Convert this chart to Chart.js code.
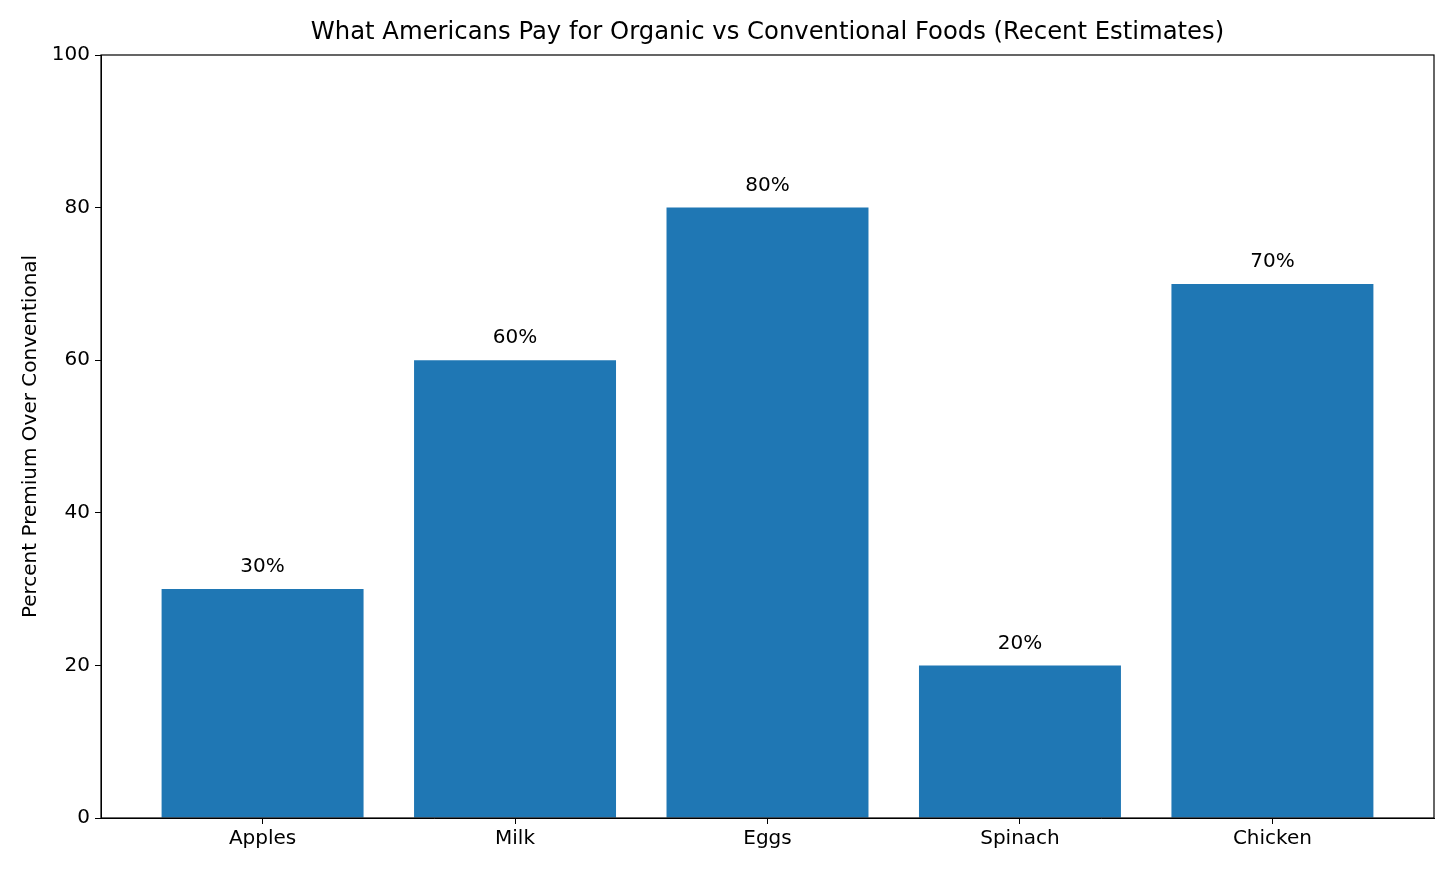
<!DOCTYPE html>
<html>
<head>
<meta charset="utf-8">
<script src="https://cdn.jsdelivr.net/npm/chart.js@4"></script>
<style>
  html, body { margin: 0; padding: 0; background: #fff; }
  #wrap { width: 1456px; height: 874px; }
</style>
</head>
<body>
<div id="wrap"><canvas id="premiumChart" width="1456" height="874"></canvas></div>
<script>
// data
const foods = ['Apples', 'Milk', 'Eggs', 'Spinach', 'Chicken'];
const premiumPct = [30, 60, 80, 20, 70];
const yTicks = [0, 20, 40, 60, 80, 100];
const chartTitle = 'What Americans Pay for Organic vs Conventional Foods (Recent Estimates)';

const FONT = 'DejaVu Sans';
const barColor = '#1f77b4';

// frame around the plot area, title centred over the axes, value labels above bars
const framePlugin = {
    id: 'frame',
    afterDraw(chart) {
        const ctx = chart.ctx;
        const a = chart.chartArea;
        ctx.save();
        ctx.strokeStyle = '#000';
        ctx.lineWidth = 1.2;
        ctx.strokeRect(a.left, a.top, a.right - a.left, a.bottom - a.top);

        ctx.fillStyle = '#000';
        ctx.textAlign = 'center';
        ctx.textBaseline = 'middle';
        ctx.font = '24.3px ' + FONT;
        ctx.fillText(chartTitle, (a.left + a.right) / 2, 33);

        const xs = chart.scales.x, ys = chart.scales.y;
        ctx.font = '20px ' + FONT;
        premiumPct.forEach(function(v, i) {
            ctx.fillText(v + '%', xs.getPixelForValue(i), ys.getPixelForValue(v) - 22);
        });
        ctx.restore();
    }
};

const ctx = document.getElementById('premiumChart').getContext('2d');

new Chart(ctx, {
    type: 'bar',
    data: {
        datasets: [{
            data: premiumPct.map(function(v, i) { return { x: i, y: v }; }),
            backgroundColor: barColor,
            borderWidth: 0,
            barPercentage: 0.8,
            categoryPercentage: 1.0
        }]
    },
    options: {
        responsive: false,
        animation: false,
        devicePixelRatio: 1,
        layout: { padding: { left: 0, right: 22, top: 55, bottom: 0 } },
        plugins: {
            legend: { display: false },
            tooltip: { enabled: false },
            title: { display: false }
        },
        scales: {
            x: {
                type: 'linear',
                min: -0.64,
                max: 4.64,
                offset: false,
                afterBuildTicks: function(scale) {
                    scale.ticks = foods.map(function(f, i) { return { value: i }; });
                },
                afterFit: function(scale) { scale.height = 56; },
                ticks: {
                    color: '#000',
                    font: { family: FONT, size: 20 },
                    padding: 3,
                    autoSkip: false,
                    maxRotation: 0,
                    callback: function(value) { return foods[value]; }
                },
                grid: { offset: false, drawOnChartArea: false, drawTicks: true, tickLength: 6, color: '#000' },
                border: { display: true, color: '#000' }
            },
            y: {
                min: 0,
                max: 100,
                afterBuildTicks: function(scale) {
                    scale.ticks = yTicks.map(function(v) { return { value: v }; });
                },
                afterFit: function(scale) { scale.width = 101; },
                ticks: {
                    color: '#000',
                    font: { family: FONT, size: 20 },
                    padding: 5
                },
                grid: { drawOnChartArea: false, drawTicks: true, tickLength: 6, color: '#000' },
                border: { display: true, color: '#000' },
                title: {
                    display: true,
                    text: 'Percent Premium Over Conventional',
                    color: '#000',
                    font: { family: FONT, size: 20, weight: 'normal', lineHeight: 1.2 },
                    padding: { top: 19, bottom: 0 }
                }
            }
        }
    },
    plugins: [framePlugin]
});
</script>
</body>
</html>
